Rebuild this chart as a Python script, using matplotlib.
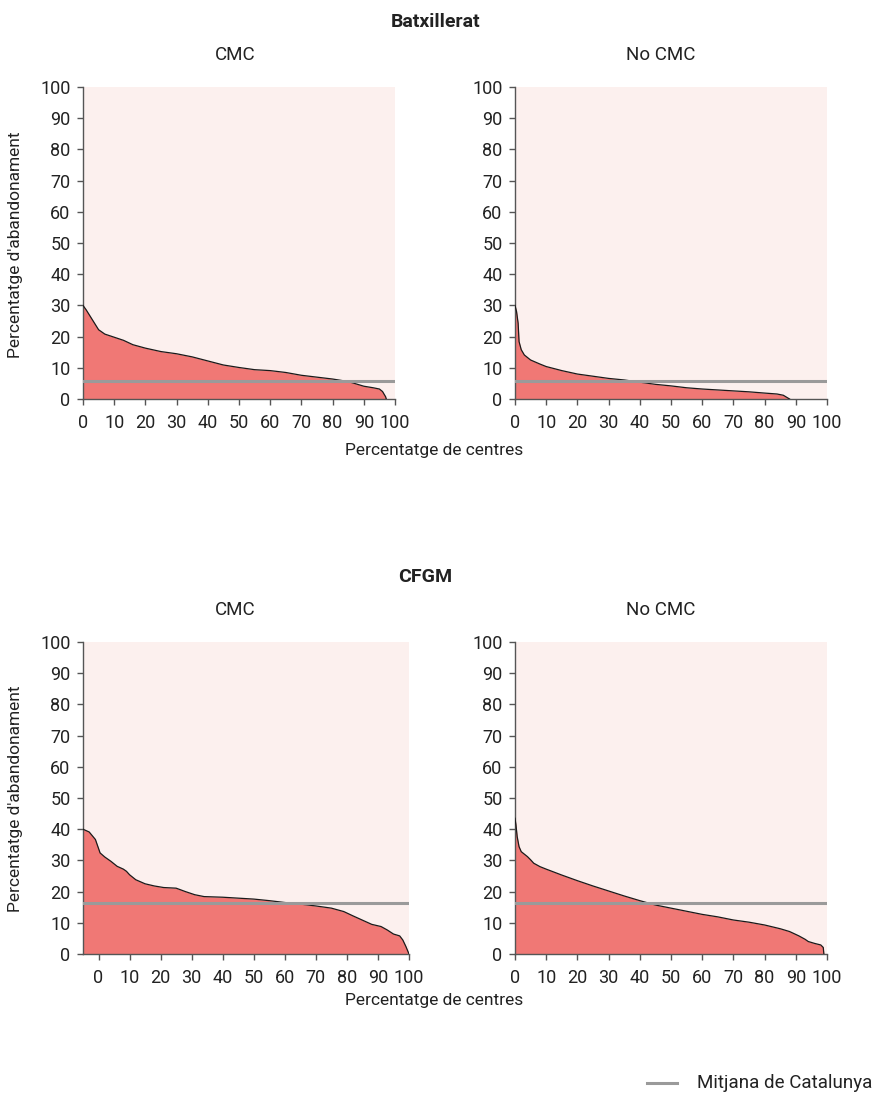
import matplotlib
matplotlib.use("Agg")
import matplotlib.pyplot as plt
from matplotlib.lines import Line2D

plt.rcParams['font.family'] = ['Roboto', 'DejaVu Sans']

# ---- Data ----
batx_cmc_x = [0, 1, 3, 5, 7, 10, 13, 16, 20, 25, 30, 35, 40, 45, 50, 55, 60, 65, 70, 75, 80, 85, 88, 90, 93, 95, 96, 97, 97.2]
batx_cmc_y = [30, 28.6, 25.4, 22.2, 20.8, 19.8, 18.8, 17.4, 16.3, 15.2, 14.5, 13.5, 12.2, 10.9, 10.1, 9.4, 9.1, 8.5, 7.6, 7.0, 6.4, 5.6, 4.7, 4.1, 3.6, 3.2, 2.4, 0.7, 0]

batx_nocmc_x = [0, 0.5, 1, 1.3, 2, 3, 5, 8, 10, 15, 20, 25, 30, 35, 40, 45, 50, 55, 60, 65, 70, 75, 80, 84, 86, 87, 88]
batx_nocmc_y = [30, 28, 24.3, 18.4, 15.8, 14.1, 12.5, 11.2, 10.4, 9.1, 8.0, 7.3, 6.6, 6.1, 5.4, 4.7, 4.2, 3.6, 3.2, 2.9, 2.6, 2.3, 1.9, 1.6, 1.2, 0.6, 0]

cfgm_cmc_x = [-5, -3, -1, 0.5, 2, 4, 6, 8, 9, 10, 12, 15, 18, 21, 25, 28, 31, 34, 40, 45, 50, 55, 60, 65, 70, 75, 79, 82, 86, 88, 91, 93, 95, 97, 98, 99, 100]
cfgm_cmc_y = [40, 39.1, 36.7, 32.4, 31.1, 29.7, 28.1, 27.2, 26.5, 25.4, 23.8, 22.5, 21.8, 21.3, 21.1, 20.0, 19.0, 18.4, 18.2, 17.9, 17.6, 17.1, 16.5, 16.0, 15.4, 14.7, 13.6, 12.2, 10.4, 9.5, 8.8, 7.7, 6.4, 5.8, 4.5, 2.4, 0]

cfgm_nocmc_x = [0, 0.3, 0.7, 1.3, 2, 4, 5, 6, 8, 10, 15, 20, 25, 30, 35, 40, 45, 50, 55, 60, 65, 70, 75, 80, 85, 88, 91, 93, 94, 96, 98, 98.8, 99]
cfgm_nocmc_y = [43.5, 41.4, 37.6, 34.4, 32.8, 31.2, 30.2, 29.1, 28.0, 27.2, 25.3, 23.5, 21.8, 20.2, 18.6, 17.1, 15.7, 14.7, 13.7, 12.7, 11.9, 10.9, 10.2, 9.3, 8.1, 7.2, 5.8, 4.7, 4.0, 3.4, 2.9, 2.1, 0]

mean_batx = 5.9
mean_cfgm = 16.3
mean_cfgm_nocmc = 16.5

group_titles = ["Batxillerat", "CFGM"]
panel_titles = ["CMC", "No CMC"]
xlabel = "Percentatge de centres"
ylabel = "Percentatge d'abandonament"
legend_label = "Mitjana de Catalunya"
xticks = [0, 10, 20, 30, 40, 50, 60, 70, 80, 90, 100]
yticks = [0, 10, 20, 30, 40, 50, 60, 70, 80, 90, 100]

# ---- Style ----
W, H = 873, 1095
fill_c = '#F07875'
bg_c = '#FCF0EE'
mean_c = '#9A9A9A'
text_c = '#222222'
spine_c = '#555555'

fig = plt.figure(figsize=(W / 100, H / 100), dpi=100)

def ax_at(x0, y0, x1, y1):
    return fig.add_axes([x0 / W, 1 - y1 / H, (x1 - x0) / W, (y1 - y0) / H])

panels = [
    (ax_at(83, 87, 395, 399), batx_cmc_x, batx_cmc_y, mean_batx, (0, 100)),
    (ax_at(515, 87, 827, 399), batx_nocmc_x, batx_nocmc_y, mean_batx, (0, 100)),
    (ax_at(83, 642, 409, 954), cfgm_cmc_x, cfgm_cmc_y, mean_cfgm, (-5, 100)),
    (ax_at(515, 642, 827, 954), cfgm_nocmc_x, cfgm_nocmc_y, mean_cfgm_nocmc, (0, 100)),
]

for ax, xs, ys, m, xl in panels:
    ax.set_facecolor(bg_c)
    ax.fill_between(xs, ys, 0, color=fill_c, lw=0, zorder=2)
    ax.plot(xs, ys, color='#1a1a1a', lw=0.9, zorder=3)
    ax.axhline(m, color=mean_c, lw=2.2, zorder=4)
    ax.set_xlim(*xl)
    ax.set_ylim(0, 100)
    ax.set_xticks(xticks)
    ax.set_yticks(yticks)
    for s in ['top', 'right']:
        ax.spines[s].set_visible(False)
    for s in ['left', 'bottom']:
        ax.spines[s].set_color(spine_c)
        ax.spines[s].set_linewidth(1.0)
    ax.tick_params(axis='both', colors=spine_c, labelcolor=text_c, labelsize=13,
                   length=4, width=1.0, pad=5)
    ax.tick_params(axis='x', pad=7)

# Titles
fig.text(436 / W, 1 - 22 / H, group_titles[0], ha='center', va='center', fontsize=14, fontweight='bold', color=text_c)
fig.text(425 / W, 1 - 577 / H, group_titles[1], ha='center', va='center', fontsize=14, fontweight='bold', color=text_c)
for yy in [55, 610]:
    fig.text(235 / W, 1 - yy / H, panel_titles[0], ha='center', va='center', fontsize=13.5, color=text_c)
    fig.text(661 / W, 1 - yy / H, panel_titles[1], ha='center', va='center', fontsize=13.5, color=text_c)

fig.text(434 / W, 1 - 450 / H, xlabel, ha='center', va='center', fontsize=12.5, color=text_c)
fig.text(434 / W, 1 - 1001 / H, xlabel, ha='center', va='center', fontsize=12.5, color=text_c)
fig.text(16 / W, 1 - 245 / H, ylabel, ha='center', va='center', rotation=90, fontsize=12.5, color=text_c)
fig.text(16 / W, 1 - 799 / H, ylabel, ha='center', va='center', rotation=90, fontsize=12.5, color=text_c)

# Legend
fig.add_artist(Line2D([647 / W, 677 / W], [1 - 1083 / H, 1 - 1083 / H], color=mean_c, lw=2.2))
fig.text(697 / W, 1 - 1083 / H, legend_label, ha='left', va='center', fontsize=13.5, color=text_c)

fig.savefig('out.png', dpi=100, facecolor='white')
